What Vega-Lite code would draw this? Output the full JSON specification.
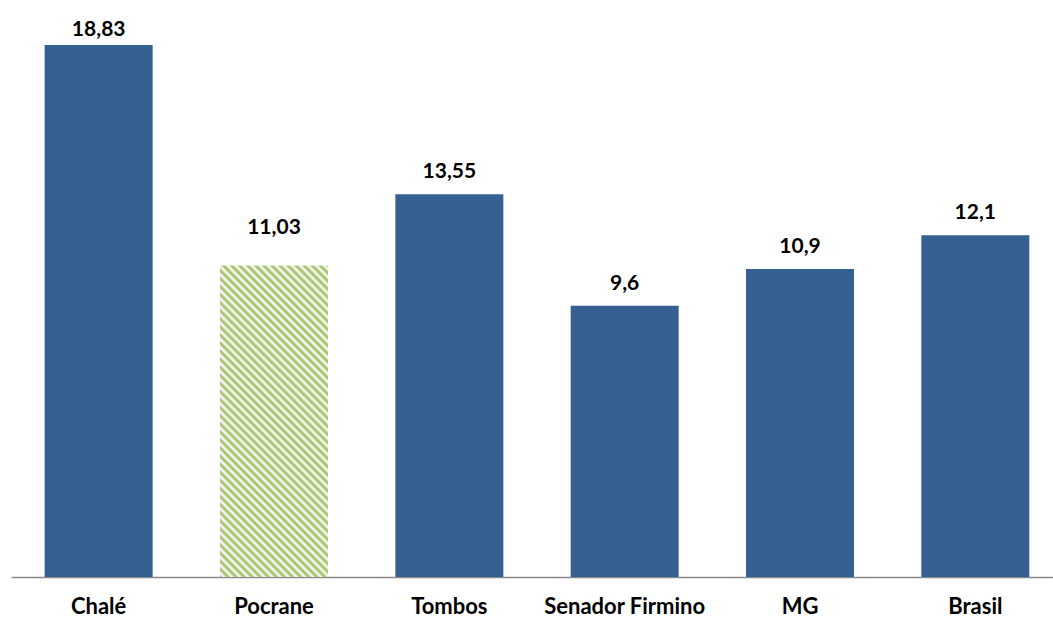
{
  "$schema": "https://vega.github.io/schema/vega-lite/v6.json",
  "width": 1052,
  "height": 565,
  "autosize": {"type": "none"},
  "padding": {"left": 11, "top": 12, "right": 0, "bottom": 40},
  "config": {"view": {"stroke": null}, "font": "Lato", "background": "#ffffff"},
  "data": {
    "values": [
      {"name": "Chalé", "value": 18.83, "label": "18,83"},
      {"name": "Pocrane", "value": 11.03, "label": "11,03"},
      {"name": "Tombos", "value": 13.55, "label": "13,55"},
      {"name": "Senador Firmino", "value": 9.6, "label": "9,6"},
      {"name": "MG", "value": 10.9, "label": "10,9"},
      {"name": "Brasil", "value": 12.1, "label": "12,1"}
    ]
  },
  "encoding": {
    "x": {
      "field": "name",
      "type": "nominal",
      "sort": ["Chalé", "Pocrane", "Tombos", "Senador Firmino", "MG", "Brasil"],
      "scale": {"paddingInner": 0.384, "paddingOuter": 0.192},
      "axis": {
        "title": null,
        "labelAngle": 0,
        "labelFont": "Lato",
        "labelFontSize": 22,
        "labelFontWeight": "bold",
        "labelColor": "#000000",
        "labelBaseline": "alphabetic",
        "labelPadding": 36,
        "ticks": false,
        "domainColor": "#8a8a8a",
        "domainWidth": 1.5
      }
    },
    "y": {
      "field": "value",
      "type": "quantitative",
      "scale": {"domain": [0, 20], "nice": false},
      "axis": null
    }
  },
  "layer": [
    {
      "transform": [{"filter": "datum.name !== 'Pocrane'"}],
      "mark": {"type": "bar", "color": "#376092"}
    },
    {
      "transform": [{"filter": "datum.name === 'Pocrane'"}],
      "mark": {
        "type": "bar",
        "fill": {
          "gradient": "linear",
          "x1": 0, "y1": 1, "x2": 0.417, "y2": -0.203,
          "stops": [
            {"offset": 0, "color": "#9bbb59"}, {"offset": 0.009615, "color": "#ffffff"},
            {"offset": 0.019231, "color": "#9bbb59"}, {"offset": 0.028846, "color": "#ffffff"},
            {"offset": 0.038462, "color": "#9bbb59"}, {"offset": 0.048077, "color": "#ffffff"},
            {"offset": 0.057692, "color": "#9bbb59"}, {"offset": 0.067308, "color": "#ffffff"},
            {"offset": 0.076923, "color": "#9bbb59"}, {"offset": 0.086538, "color": "#ffffff"},
            {"offset": 0.096154, "color": "#9bbb59"}, {"offset": 0.105769, "color": "#ffffff"},
            {"offset": 0.115385, "color": "#9bbb59"}, {"offset": 0.125, "color": "#ffffff"},
            {"offset": 0.134615, "color": "#9bbb59"}, {"offset": 0.144231, "color": "#ffffff"},
            {"offset": 0.153846, "color": "#9bbb59"}, {"offset": 0.163462, "color": "#ffffff"},
            {"offset": 0.173077, "color": "#9bbb59"}, {"offset": 0.182692, "color": "#ffffff"},
            {"offset": 0.192308, "color": "#9bbb59"}, {"offset": 0.201923, "color": "#ffffff"},
            {"offset": 0.211538, "color": "#9bbb59"}, {"offset": 0.221154, "color": "#ffffff"},
            {"offset": 0.230769, "color": "#9bbb59"}, {"offset": 0.240385, "color": "#ffffff"},
            {"offset": 0.25, "color": "#9bbb59"}, {"offset": 0.259615, "color": "#ffffff"},
            {"offset": 0.269231, "color": "#9bbb59"}, {"offset": 0.278846, "color": "#ffffff"},
            {"offset": 0.288462, "color": "#9bbb59"}, {"offset": 0.298077, "color": "#ffffff"},
            {"offset": 0.307692, "color": "#9bbb59"}, {"offset": 0.317308, "color": "#ffffff"},
            {"offset": 0.326923, "color": "#9bbb59"}, {"offset": 0.336538, "color": "#ffffff"},
            {"offset": 0.346154, "color": "#9bbb59"}, {"offset": 0.355769, "color": "#ffffff"},
            {"offset": 0.365385, "color": "#9bbb59"}, {"offset": 0.375, "color": "#ffffff"},
            {"offset": 0.384615, "color": "#9bbb59"}, {"offset": 0.394231, "color": "#ffffff"},
            {"offset": 0.403846, "color": "#9bbb59"}, {"offset": 0.413462, "color": "#ffffff"},
            {"offset": 0.423077, "color": "#9bbb59"}, {"offset": 0.432692, "color": "#ffffff"},
            {"offset": 0.442308, "color": "#9bbb59"}, {"offset": 0.451923, "color": "#ffffff"},
            {"offset": 0.461538, "color": "#9bbb59"}, {"offset": 0.471154, "color": "#ffffff"},
            {"offset": 0.480769, "color": "#9bbb59"}, {"offset": 0.490385, "color": "#ffffff"},
            {"offset": 0.5, "color": "#9bbb59"}, {"offset": 0.509615, "color": "#ffffff"},
            {"offset": 0.519231, "color": "#9bbb59"}, {"offset": 0.528846, "color": "#ffffff"},
            {"offset": 0.538462, "color": "#9bbb59"}, {"offset": 0.548077, "color": "#ffffff"},
            {"offset": 0.557692, "color": "#9bbb59"}, {"offset": 0.567308, "color": "#ffffff"},
            {"offset": 0.576923, "color": "#9bbb59"}, {"offset": 0.586538, "color": "#ffffff"},
            {"offset": 0.596154, "color": "#9bbb59"}, {"offset": 0.605769, "color": "#ffffff"},
            {"offset": 0.615385, "color": "#9bbb59"}, {"offset": 0.625, "color": "#ffffff"},
            {"offset": 0.634615, "color": "#9bbb59"}, {"offset": 0.644231, "color": "#ffffff"},
            {"offset": 0.653846, "color": "#9bbb59"}, {"offset": 0.663462, "color": "#ffffff"},
            {"offset": 0.673077, "color": "#9bbb59"}, {"offset": 0.682692, "color": "#ffffff"},
            {"offset": 0.692308, "color": "#9bbb59"}, {"offset": 0.701923, "color": "#ffffff"},
            {"offset": 0.711538, "color": "#9bbb59"}, {"offset": 0.721154, "color": "#ffffff"},
            {"offset": 0.730769, "color": "#9bbb59"}, {"offset": 0.740385, "color": "#ffffff"},
            {"offset": 0.75, "color": "#9bbb59"}, {"offset": 0.759615, "color": "#ffffff"},
            {"offset": 0.769231, "color": "#9bbb59"}, {"offset": 0.778846, "color": "#ffffff"},
            {"offset": 0.788462, "color": "#9bbb59"}, {"offset": 0.798077, "color": "#ffffff"},
            {"offset": 0.807692, "color": "#9bbb59"}, {"offset": 0.817308, "color": "#ffffff"},
            {"offset": 0.826923, "color": "#9bbb59"}, {"offset": 0.836538, "color": "#ffffff"},
            {"offset": 0.846154, "color": "#9bbb59"}, {"offset": 0.855769, "color": "#ffffff"},
            {"offset": 0.865385, "color": "#9bbb59"}, {"offset": 0.875, "color": "#ffffff"},
            {"offset": 0.884615, "color": "#9bbb59"}, {"offset": 0.894231, "color": "#ffffff"},
            {"offset": 0.903846, "color": "#9bbb59"}, {"offset": 0.913462, "color": "#ffffff"},
            {"offset": 0.923077, "color": "#9bbb59"}, {"offset": 0.932692, "color": "#ffffff"},
            {"offset": 0.942308, "color": "#9bbb59"}, {"offset": 0.951923, "color": "#ffffff"},
            {"offset": 0.961538, "color": "#9bbb59"}, {"offset": 0.971154, "color": "#ffffff"},
            {"offset": 0.980769, "color": "#9bbb59"}, {"offset": 0.990385, "color": "#ffffff"},
            {"offset": 1, "color": "#9bbb59"}
          ]
        }
      }
    },
    {
      "transform": [{"filter": "datum.name !== 'Pocrane' && datum.name !== 'Chalé'"}],
      "mark": {"type": "text", "baseline": "alphabetic", "dy": -16, "fontSize": 21, "fontWeight": "bold", "color": "#000000", "font": "Lato"},
      "encoding": {"text": {"field": "label"}}
    },
    {
      "transform": [{"filter": "datum.name === 'Chalé'"}],
      "mark": {"type": "text", "baseline": "alphabetic", "dy": -9, "fontSize": 21, "fontWeight": "bold", "color": "#000000", "font": "Lato"},
      "encoding": {"text": {"field": "label"}}
    },
    {
      "transform": [{"filter": "datum.name === 'Pocrane'"}],
      "mark": {"type": "text", "baseline": "alphabetic", "dy": -31, "fontSize": 21, "fontWeight": "bold", "color": "#000000", "font": "Lato"},
      "encoding": {"text": {"field": "label"}}
    }
  ]
}
